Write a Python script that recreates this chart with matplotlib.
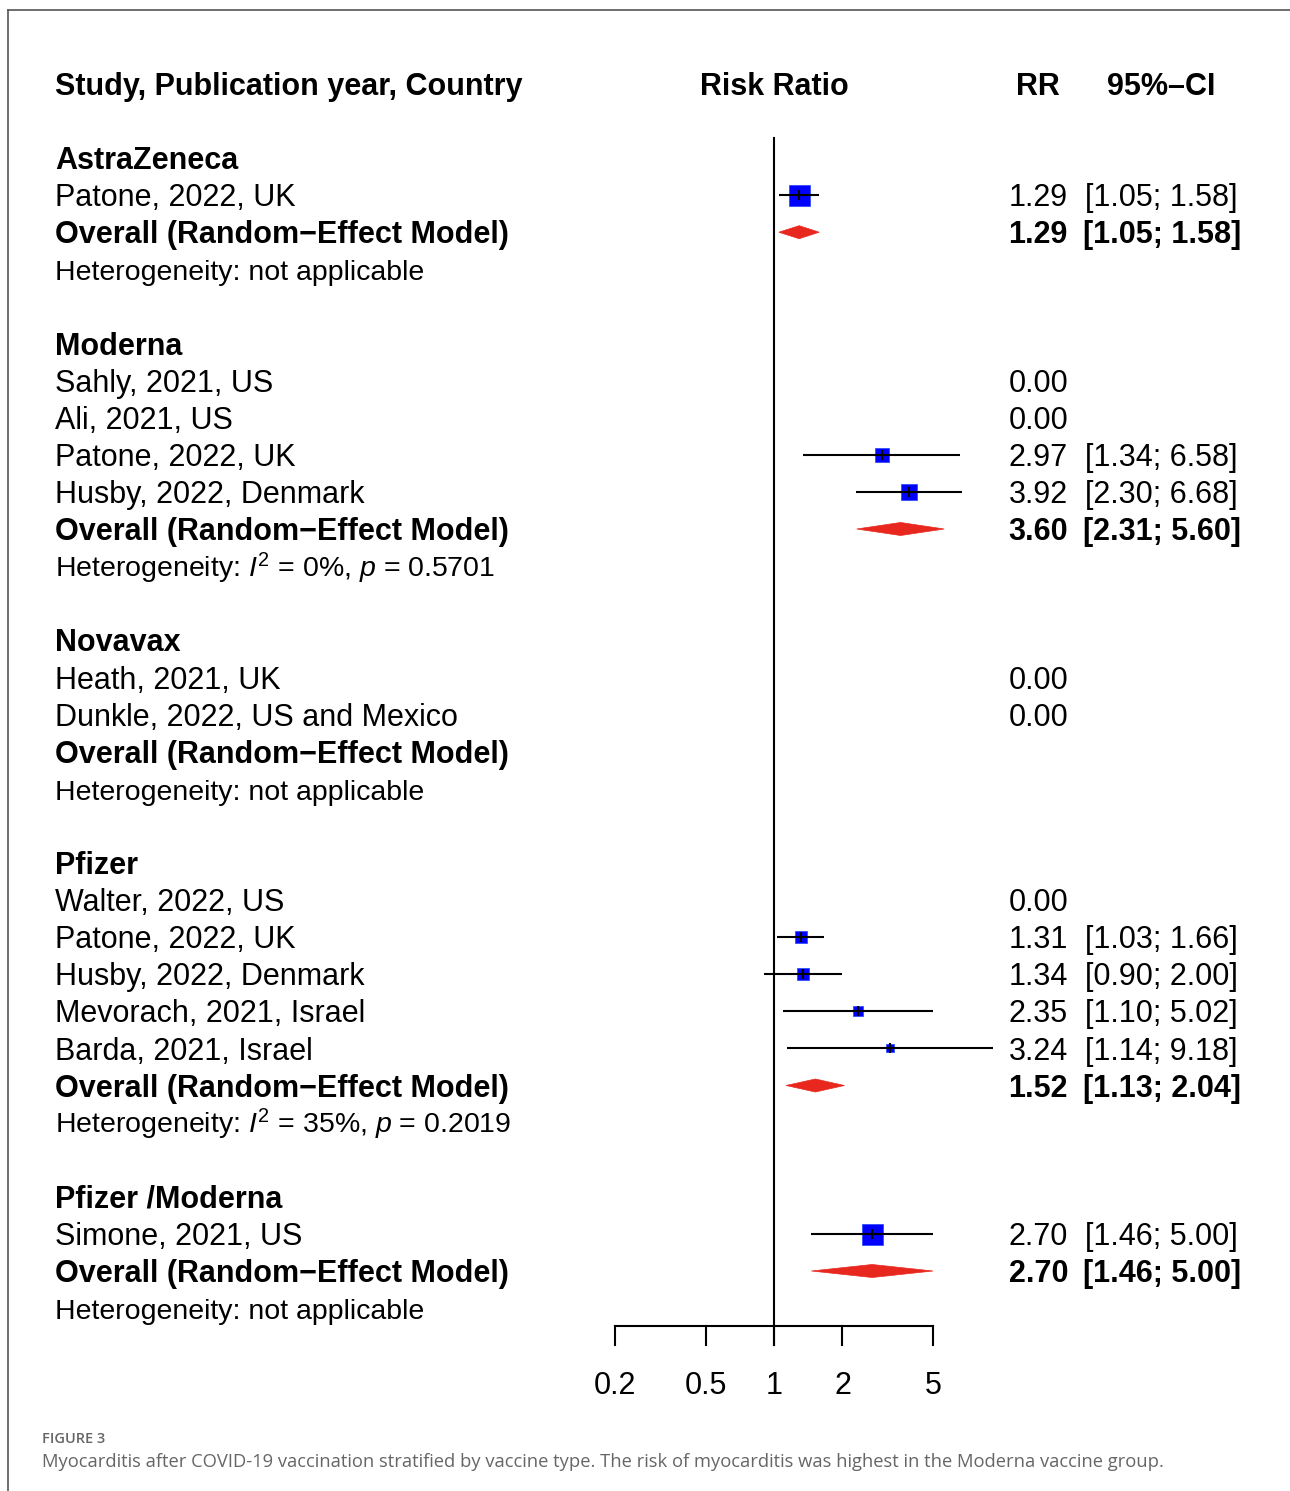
import numpy as np
import matplotlib
matplotlib.use("Agg")
import matplotlib.pyplot as plt
from matplotlib.lines import Line2D
from matplotlib.patches import Polygon

# Data
groups = ["AstraZeneca", "Moderna", "Novavax", "Pfizer", "Pfizer /Moderna"]

study_group = ["AstraZeneca", "Moderna", "Moderna", "Moderna", "Moderna",
               "Novavax", "Novavax", "Pfizer", "Pfizer", "Pfizer", "Pfizer",
               "Pfizer", "Pfizer /Moderna"]
study_label = ["Patone, 2022, UK",
               "Sahly, 2021, US", "Ali, 2021, US", "Patone, 2022, UK", "Husby, 2022, Denmark",
               "Heath, 2021, UK", "Dunkle, 2022, US and Mexico",
               "Walter, 2022, US", "Patone, 2022, UK", "Husby, 2022, Denmark",
               "Mevorach, 2021, Israel", "Barda, 2021, Israel",
               "Simone, 2021, US"]
study_rr = [1.29, 0.00, 0.00, 2.97, 3.92, 0.00, 0.00, 0.00, 1.31, 1.34, 2.35, 3.24, 2.70]
study_lo = [1.05, np.nan, np.nan, 1.34, 2.30, np.nan, np.nan, np.nan, 1.03, 0.90, 1.10, 1.14, 1.46]
study_hi = [1.58, np.nan, np.nan, 6.58, 6.68, np.nan, np.nan, np.nan, 1.66, 2.00, 5.02, 9.18, 5.00]
study_weight = [100, np.nan, np.nan, 43, 57, np.nan, np.nan, np.nan, 34, 34, 20, 12, 100]

pooled_rr = [1.29, 3.60, np.nan, 1.52, 2.70]
pooled_lo = [1.05, 2.31, np.nan, 1.13, 1.46]
pooled_hi = [1.58, 5.60, np.nan, 2.04, 5.00]
het_text = ["Heterogeneity: not applicable",
            r"Heterogeneity: $I^2$ = 0%, $p$ = 0.5701",
            "Heterogeneity: not applicable",
            r"Heterogeneity: $I^2$ = 35%, $p$ = 0.2019",
            "Heterogeneity: not applicable"]

x_ticks = [0.2, 0.5, 1, 2, 5]
x_ticklabels = ["0.2", "0.5", "1", "2", "5"]

# Styling
plt.rcParams["font.family"] = ["Liberation Sans", "DejaVu Sans"]
plt.rcParams["mathtext.fontset"] = "custom"
plt.rcParams["mathtext.rm"] = "Liberation Sans"
plt.rcParams["mathtext.it"] = "Liberation Sans:italic"
FS = 22
FS_HET = 20.5
W, H = 1290, 1491
ROW_PX = 37.1
ROW0_PX = 158
ONE_PX = 774
K = 159 / np.log(5)  # pixels per ln unit on the log axis

fig = plt.figure(figsize=(W / 100, H / 100), dpi=100)
ax = fig.add_axes([0, 0, 1, 1])
ax.set_xscale("log")
ax.set_xlim(np.exp((0 - ONE_PX) / K), np.exp((W - ONE_PX) / K))
ax.set_ylim((H - ROW0_PX) / ROW_PX, -ROW0_PX / ROW_PX)
ax.axis("off")
tr = ax.get_yaxis_transform()


def fx(px):
    return px / W


BASE = 0.3  # baseline offset (rows) from row centre
blue = "#0000FF"
red = "#E8281E"

# header
ax.text(fx(55), -2 + BASE, "Study, Publication year, Country", transform=tr,
        fontsize=FS, fontweight="bold", va="baseline", ha="left")
ax.text(fx(774), -2 + BASE, "Risk Ratio", transform=tr,
        fontsize=FS, fontweight="bold", va="baseline", ha="center")
ax.text(fx(1060), -2 + BASE, "RR", transform=tr,
        fontsize=FS, fontweight="bold", va="baseline", ha="right")
ax.text(fx(1107), -2 + BASE, "95%\u2013CI", transform=tr,
        fontsize=FS, fontweight="bold", va="baseline", ha="left")

r = 0
for gi, g in enumerate(groups):
    ax.text(fx(55), r + BASE, g, transform=tr, fontsize=FS, fontweight="bold",
            va="baseline")
    r += 1
    for i, sg in enumerate(study_group):
        if sg != g:
            continue
        ax.text(fx(55), r + BASE, study_label[i], transform=tr, fontsize=FS,
                va="baseline")
        ax.text(fx(1068), r + BASE, f"{study_rr[i]:.2f}", transform=tr,
                fontsize=FS, va="baseline", ha="right")
        if not np.isnan(study_lo[i]):
            ax.text(fx(1085), r + BASE, f"[{study_lo[i]:.2f}; {study_hi[i]:.2f}]",
                    transform=tr, fontsize=FS, va="baseline", ha="left")
            sq = 21 * np.sqrt(study_weight[i] / 100) * 0.72
            ax.plot([study_rr[i]], [r], marker="s", ms=sq, color=blue,
                    mec="#3050ff", mew=0.6, zorder=3, ls="none")
            ax.plot([study_lo[i], study_hi[i]], [r, r], color="black", lw=1.5,
                    zorder=4, solid_capstyle="butt")
            ax.plot([study_rr[i]], [r], marker="|", ms=7, mew=1.5,
                    color="black", zorder=5, ls="none")
        r += 1
    ax.text(fx(55), r + BASE, "Overall (Random\u2212Effect Model)", transform=tr,
            fontsize=FS, fontweight="bold", va="baseline")
    if not np.isnan(pooled_rr[gi]):
        ax.text(fx(1068), r + BASE, f"{pooled_rr[gi]:.2f}", transform=tr,
                fontsize=FS, fontweight="bold", va="baseline", ha="right")
        ax.text(fx(1083), r + BASE, f"[{pooled_lo[gi]:.2f}; {pooled_hi[gi]:.2f}]",
                transform=tr, fontsize=FS, fontweight="bold", va="baseline",
                ha="left")
        h = 6.5 / ROW_PX
        ax.add_patch(Polygon([(pooled_lo[gi], r), (pooled_rr[gi], r - h),
                              (pooled_hi[gi], r), (pooled_rr[gi], r + h)],
                             closed=True, facecolor=red, edgecolor=red,
                             lw=0.5, zorder=3))
    r += 1
    ax.text(fx(55), r + BASE, het_text[gi], transform=tr, fontsize=FS_HET,
            va="baseline")
    r += 2

# reference line and x axis
axis_r = (1326 - ROW0_PX) / ROW_PX
tick_r = (1345 - ROW0_PX) / ROW_PX
ax.plot([1, 1], [(138 - ROW0_PX) / ROW_PX, tick_r], color="black", lw=1.5, zorder=2)
ax.plot([x_ticks[0], x_ticks[-1]], [axis_r, axis_r], color="black", lw=1.5)
for t, lab in zip(x_ticks, x_ticklabels):
    ax.plot([t, t], [axis_r, tick_r], color="black", lw=1.5)
    ax.text(t, (1394 - ROW0_PX) / ROW_PX, lab, fontsize=FS, ha="center",
            va="baseline")

# frame lines and caption
fig.add_artist(Line2D([8 / W, 1], [1 - 10 / H, 1 - 10 / H], color="#555555", lw=1.2))
fig.add_artist(Line2D([8 / W, 8 / W], [0, 1 - 10 / H], color="#555555", lw=1.2))
fig.text(42 / W, 1 - 1443 / H, "FIGURE 3", fontsize=10.5, color="#666666",
         family=["Open Sans", "DejaVu Sans"], fontweight="semibold", va="baseline")
fig.text(42 / W, 1 - 1467 / H,
         "Myocarditis after COVID-19 vaccination stratified by vaccine type. "
         "The risk of myocarditis was highest in the Moderna vaccine group.",
         fontsize=13.2, color="#666666", family=["Open Sans", "DejaVu Sans"],
         va="baseline")

fig.savefig("out.png", dpi=100)
